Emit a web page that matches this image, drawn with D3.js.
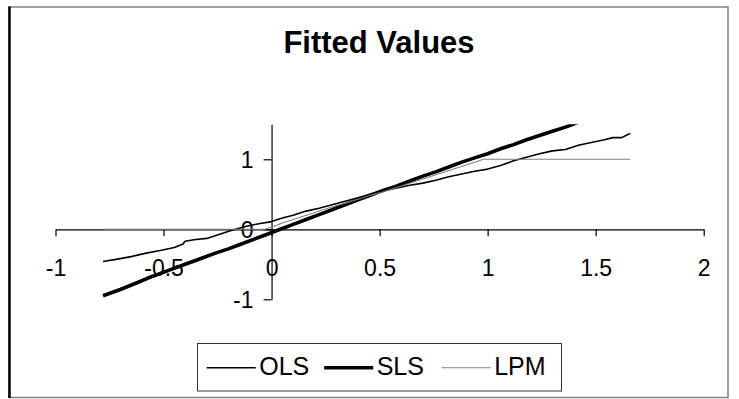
<!DOCTYPE html>
<html>
<head>
<meta charset="utf-8">
<script src="https://cdn.jsdelivr.net/npm/d3@7"></script>
<style>
  html, body { margin: 0; padding: 0; background: #fff; }
  svg { display: block; }
  text { font-family: "Liberation Sans", Arial, sans-serif; fill: #000; }
</style>
</head>
<body>
<svg id="chart" width="739" height="399"></svg>
<script>
// ---- data ----
const title = "Fitted Values";
const seriesNames = ["OLS", "SLS", "LPM"];

const olsX = [-0.78, -0.72, -0.65, -0.58, -0.51, -0.45, -0.41, -0.40, -0.36, -0.30, -0.24, -0.18, -0.12, -0.06, 0.00, 0.05, 0.10, 0.16, 0.22, 0.28, 0.34, 0.40, 0.46, 0.52, 0.58, 0.64, 0.70, 0.76, 0.82, 0.88, 0.94, 1.00, 1.06, 1.12, 1.18, 1.24, 1.30, 1.36, 1.42, 1.48, 1.54, 1.58, 1.62, 1.64, 1.66];
const olsY = [-0.46, -0.43, -0.39, -0.34, -0.30, -0.26, -0.21, -0.17, -0.15, -0.13, -0.07, -0.01, 0.04, 0.08, 0.11, 0.16, 0.20, 0.26, 0.30, 0.35, 0.40, 0.45, 0.505, 0.55, 0.59, 0.63, 0.66, 0.70, 0.75, 0.79, 0.83, 0.86, 0.91, 0.98, 1.03, 1.08, 1.12, 1.14, 1.20, 1.24, 1.28, 1.31, 1.31, 1.34, 1.37];

const slsX = [-0.78, -0.70, -0.62, -0.55, -0.47, -0.40, -0.33, -0.26, -0.20, -0.14, -0.08, -0.02, 0.04, 0.10, 0.16, 0.22, 0.28, 0.34, 0.40, 0.46, 0.52, 0.58, 0.64, 0.70, 0.76, 0.82, 0.88, 0.94, 1.00, 1.06, 1.12, 1.18, 1.24, 1.30, 1.36, 1.42, 1.48, 1.55, 1.62, 1.66];
const slsY = [-0.95, -0.86, -0.76, -0.67, -0.58, -0.50, -0.42, -0.34, -0.28, -0.21, -0.14, -0.07, 0.00, 0.07, 0.14, 0.21, 0.28, 0.35, 0.42, 0.49, 0.56, 0.62, 0.69, 0.76, 0.82, 0.89, 0.96, 1.02, 1.08, 1.15, 1.21, 1.28, 1.34, 1.40, 1.46, 1.53, 1.59, 1.67, 1.74, 1.78];

const lpmX = [-0.78, -0.50, -0.25, -0.03, 0.00, 0.05, 0.10, 0.15, 0.20, 0.25, 0.30, 0.35, 0.40, 0.45, 0.50, 0.55, 0.60, 0.65, 0.70, 0.75, 0.80, 0.85, 0.90, 0.95, 0.98, 1.10, 1.30, 1.50, 1.66];
const lpmY = [0, 0, 0, 0, 0.03, 0.09, 0.14, 0.19, 0.24, 0.29, 0.34, 0.38, 0.43, 0.48, 0.52, 0.57, 0.62, 0.67, 0.72, 0.77, 0.82, 0.87, 0.92, 0.97, 1.00, 1, 1, 1, 1];

const xTicks = [-1, -0.5, 0, 0.5, 1, 1.5, 2];
const yTicks = [-1, 0, 1];
const xDomain = [-1, 2];
const yDomain = [-1, 1.5];

// ---- layout ----
const svg = d3.select("#chart");
const plot = { left: 55.5, right: 703.7, top: 124.3, bottom: 299.3 };

const x = d3.scaleLinear().domain(xDomain).range([plot.left, plot.right]);
const y = d3.scaleLinear().domain(yDomain).range([plot.bottom, plot.top]);
const fmt = d => String(d);

// chart border
svg.append("rect").attr("x", 9).attr("y", 7).attr("width", 719).attr("height", 390.5)
  .attr("fill", "none").attr("stroke", "#808080").attr("stroke-width", 1.5);
svg.append("line").attr("x1", 9.5).attr("x2", 9.5).attr("y1", 6.5).attr("y2", 398)
  .attr("stroke", "#000").attr("stroke-width", 2.5);

// title
svg.append("text").attr("x", 379).attr("y", 53).attr("text-anchor", "middle")
  .style("font-size", "31px").style("font-weight", "bold").text(title);

// clip
svg.append("defs").append("clipPath").attr("id", "clip").append("rect")
  .attr("x", plot.left).attr("y", plot.top)
  .attr("width", plot.right - plot.left).attr("height", plot.bottom - plot.top);

// x axis (crosses at y=0)
const xAxisG = svg.append("g").attr("transform", `translate(0,${y(0)})`)
  .call(d3.axisBottom(x).tickValues(xTicks).tickSize(7).tickSizeOuter(0).tickFormat(fmt));
xAxisG.select(".domain").attr("stroke", "#000").attr("stroke-width", 1.2);
xAxisG.selectAll(".tick line").attr("stroke", "#000").attr("stroke-width", 1.2);
xAxisG.selectAll(".tick text").attr("y", 276 - y(0)).attr("dy", null)
  .style("font-size", "23px").style("font-family", "'Liberation Sans', Arial, sans-serif").attr("fill", "#000");

// y axis (crosses at x=0)
const yAxisG = svg.append("g").attr("transform", `translate(${x(0)},0)`)
  .call(d3.axisLeft(y).tickValues(yTicks).tickSize(8).tickSizeOuter(0).tickFormat(fmt));
yAxisG.select(".domain").attr("stroke", "#000").attr("stroke-width", 1.2);
yAxisG.selectAll(".tick line").attr("stroke", "#000").attr("stroke-width", 1.2);
yAxisG.selectAll(".tick text").attr("x", -18).attr("dy", "0.35em")
  .style("font-size", "23px").style("font-family", "'Liberation Sans', Arial, sans-serif").attr("fill", "#000");

// series
const seriesData = [
  d3.zip(olsX, olsY),
  d3.zip(slsX, slsY),
  d3.zip(lpmX, lpmY)
];
const seriesStyle = [
  { stroke: "#000", width: 1.6 },
  { stroke: "#000", width: 3.6 },
  { stroke: "#808080", width: 1.1 }
];
const line = d3.line().x(d => x(d[0])).y(d => y(d[1]));
const linesG = svg.append("g").attr("clip-path", "url(#clip)");
seriesData.forEach((pts, i) => {
  linesG.append("path").datum(pts).attr("d", line)
    .attr("fill", "none").attr("stroke", seriesStyle[i].stroke)
    .attr("stroke-width", seriesStyle[i].width).attr("stroke-linejoin", "round");
});

// legend
const lg = svg.append("g");
lg.append("rect").attr("x", 197.5).attr("y", 343.5).attr("width", 364).attr("height", 47.5)
  .attr("fill", "#fff").attr("stroke", "#333").attr("stroke-width", 1);
seriesNames.forEach((name, i) => {
  const x0 = 206.7 + i * 117.5;
  lg.append("line").attr("x1", x0).attr("x2", x0 + 49).attr("y1", 367.7).attr("y2", 367.7)
    .attr("stroke", seriesStyle[i].stroke).attr("stroke-width", seriesStyle[i].width);
  lg.append("text").attr("x", x0 + 52.5).attr("y", 374.5)
    .style("font-size", "25px").text(name);
});
</script>
</body>
</html>
